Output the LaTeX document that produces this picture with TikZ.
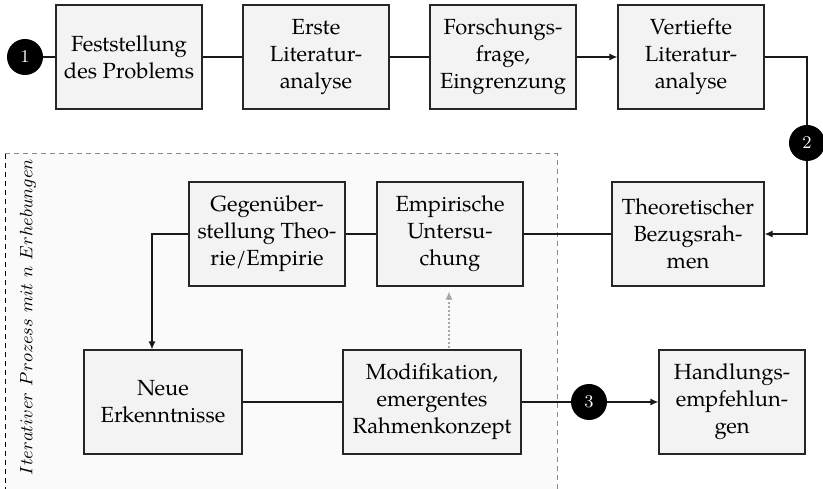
\documentclass[tikz,border=0pt]{standalone}
\usepackage{fontspec}
\newfontfamily\pal{TeX Gyre Pagella}
\usetikzlibrary{arrows.meta}
\definecolor{boxfill}{HTML}{F3F3F3}
\definecolor{zonefill}{HTML}{FAFAFA}
\definecolor{zoneline}{HTML}{8A8A8A}
\begin{document}
\begin{tikzpicture}[x=0.5bp,y=-0.5bp,
  stepbox/.style={draw=black!85, fill=boxfill, line width=0.6pt, align=center,
    minimum width=73bp, minimum height=52bp, inner sep=2bp,
    font=\pal\fontsize{11}{13.6}\selectfont},
  marker/.style={circle, fill=black, text=white, minimum size=18bp, inner sep=0pt,
    font=\fontsize{9}{10}\selectfont},
  link/.style={draw=black!90, line width=0.6pt},
  arr/.style={link, -{Latex[length=4bp,width=3.5bp]}},
  hint/.style={draw=black!35, line width=0.6pt, dash pattern=on 1bp off 1bp,
    -{Latex[length=4bp,width=3.5bp]}, shorten >=2.5bp},
  zone/.style={line width=0.5pt, dash pattern=on 2.5bp off 2bp}]
\useasboundingbox (0,0) rectangle (823,489);

% iterative area
\fill[zonefill] (5,154) rectangle (557,495);
\draw[zone, black] (5,154) -- (5,495);
\draw[zone, zoneline] (5,154) -- (557,154) -- (557,495);
\node[rotate=90, font=\fontsize{9}{11}\selectfont] (lbl) at (28,317)
  {$Iterativer\ Prozess\ mit\ n\ Erhebungen$};

% steps
\node[marker] (c1) at (25,57) {1};
\node[stepbox] (b1) at (129,57) {Feststellung\\des Problems};
\node[stepbox] (b2) at (316,57) {Erste\\Literatur-\\analyse};
\node[stepbox] (b3) at (503,57) {Forschungs-\\frage,\\Eingrenzung};
\node[stepbox] (b4) at (691,57) {Vertiefte\\Literatur-\\analyse};
\node[marker] (c2) at (807,143) {2};
\node[stepbox, minimum width=76bp] (b5) at (688,234) {Theoretischer\\Bezugsrah-\\men};
\node[stepbox] (b6) at (450,234) {Empirische\\Untersu-\\chung};
\node[stepbox, minimum width=78bp] (b7) at (267,234) {Gegenüber-\\stellung Theo-\\rie/Empirie};
\node[stepbox, minimum width=79bp] (b8) at (163,402) {Neue\\Erkenntnisse};
\node[stepbox, minimum width=89bp] (b9) at (432,402) {Modifikation,\\emergentes\\Rahmenkonzept};
\node[marker] (c3) at (589,402) {3};
\node[stepbox] (b10) at (732,402) {Handlungs-\\empfehlun-\\gen};
\coordinate (turn) at (152,234);
\coordinate (up) at (449,348);

% connectors
\draw[link] (c1) -- (b1);
\draw[link] (b1) -- (b2);
\draw[link] (b2) -- (b3);
\draw[arr] (b3) -- (b4);
\draw[link] (b4.east) -| (c2.north);
\draw[arr] (c2.south) |- (b5.east);
\draw[link] (b6) -- (b5);
\draw[link] (b7) -- (b6);
\draw[arr] (b7.west) -| (turn |- b8.north);
\draw[link] (b8) -- (b9);
\draw[link] (b9) -- (c3);
\draw[arr] (c3) -- (b10);
\draw[hint] (up) -- (up |- b6.south);
\end{tikzpicture}
\end{document}
